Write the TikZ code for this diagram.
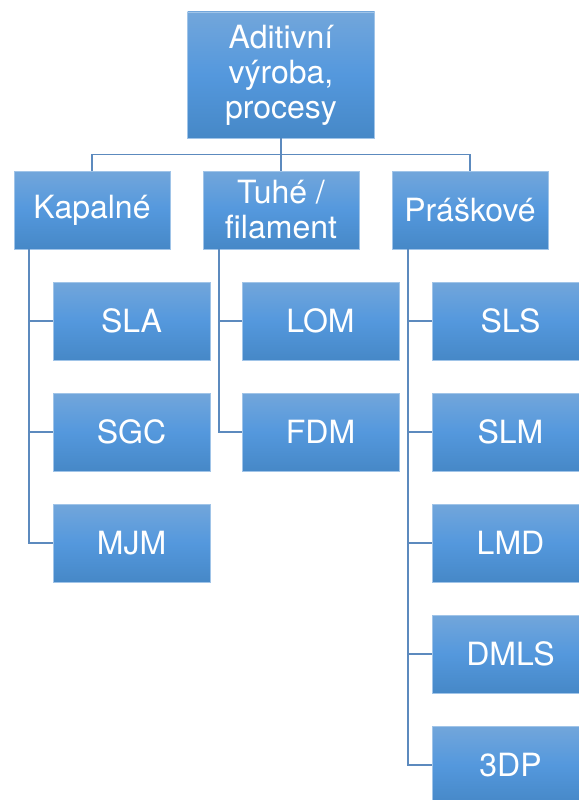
\documentclass[tikz,border=0pt]{standalone}
\usepackage{fontspec}
\setmainfont{TeX Gyre Heros}
\usepackage{xcolor}
\usepackage{tikz}
\usetikzlibrary{positioning}

\definecolor{boxtop}{RGB}{114,166,219}
\definecolor{boxmid}{RGB}{84,152,221}
\definecolor{boxbot}{RGB}{70,136,199}
\definecolor{boxline}{RGB}{160,196,232}
\definecolor{linkcol}{RGB}{92,138,190}

\begin{document}
\begin{tikzpicture}[
    proc/.style={rectangle, draw=boxline, line width=0.8pt, top color=boxtop, bottom color=boxbot, middle color=boxmid,
        text=white, font=\fontsize{32}{35}\selectfont, align=center, inner sep=0pt, outer sep=0pt},
    top/.style={proc, minimum width=187pt, minimum height=126pt},
    group/.style={proc, minimum width=156pt, minimum height=78pt},
    leaf/.style={proc, minimum width=157pt, minimum height=78pt},
    link/.style={draw=linkcol, line width=1.4pt}
]

\useasboundingbox (0,0) rectangle (578pt,-800pt);

\node[top] (root) at (281pt,-75pt) {Aditivní\\výroba,\\procesy};

\node[group, below=33pt of root] (tuh) {Tuhé /\\filament};
\node[group, left=33pt of tuh] (kap) {Kapalné};
\node[group, right=33pt of tuh] (pra) {Práškové};

\node[leaf, below right=33pt and 39pt of kap.south west] (sla) {SLA};
\node[leaf, below=33pt of sla] (sgc) {SGC};
\node[leaf, below=33pt of sgc] (mjm) {MJM};

\node[leaf, below right=33pt and 39pt of tuh.south west] (lom) {LOM};
\node[leaf, below=33pt of lom] (fdm) {FDM};

\node[leaf, below right=33pt and 40pt of pra.south west] (sls) {SLS};
\node[leaf, below=33pt of sls] (slm) {SLM};
\node[leaf, below=33pt of slm] (lmd) {LMD};
\node[leaf, below=33pt of lmd] (dmls) {DMLS};
\node[leaf, below=33pt of dmls] (tdp) {3DP};

\draw[link] (root) -- (tuh);
\draw[link] (kap.north) -- ++(0,16.5pt) -| (pra.north);

\foreach \n in {sla,sgc,mjm}
    \draw[link] ([xshift=15pt]kap.south west) |- (\n.west);
\foreach \n in {lom,fdm}
    \draw[link] ([xshift=16pt]tuh.south west) |- (\n.west);
\foreach \n in {sls,slm,lmd,dmls,tdp}
    \draw[link] ([xshift=16pt]pra.south west) |- (\n.west);

\end{tikzpicture}
\end{document}
